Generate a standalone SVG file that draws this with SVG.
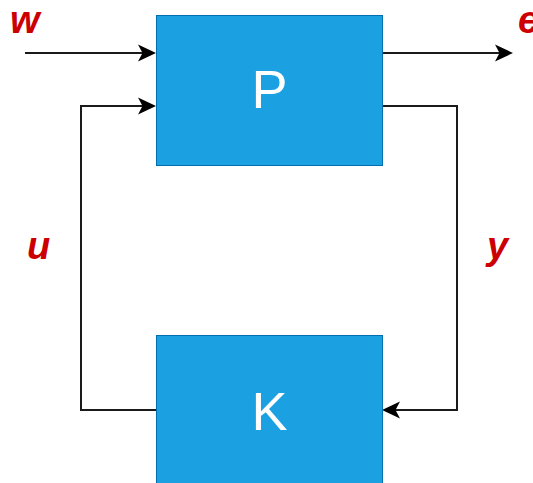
<svg xmlns="http://www.w3.org/2000/svg" width="533" height="483" viewBox="0 0 533 483">
  <style>
    .box { fill: #1BA1E2; stroke: #006EAF; stroke-width: 1; }
    .boxlabel { font-family: "Liberation Sans", Arial, sans-serif; font-size: 54px; fill: #ffffff; text-anchor: middle; }
    .sig { font-family: "Liberation Sans", Arial, sans-serif; font-size: 38px; font-weight: bold; font-style: italic; fill: #CC0000; }
    .wire { fill: none; stroke: #1a1a1a; stroke-width: 2; }
  </style>
  <defs>
    <marker id="arrow" viewBox="0 0 18 18" refX="14" refY="9" markerWidth="18" markerHeight="18" markerUnits="userSpaceOnUse" orient="auto">
      <path d="M0,0.5 L18,9 L0,17.5 L4.5,9 Z" fill="#000000"/>
    </marker>
  </defs>
  <rect width="533" height="483" fill="#ffffff"/>
  <g id="connectors">
    <path class="wire" d="M25,53 H152" marker-end="url(#arrow)"/>
    <path class="wire" d="M382,53 H509" marker-end="url(#arrow)"/>
    <path class="wire" d="M156,410 H81 V106 H152" marker-end="url(#arrow)"/>
    <path class="wire" d="M382,106 H457 V410 H386" marker-end="url(#arrow)"/>
  </g>
  <g id="node-P">
    <rect class="box" x="156.5" y="15.5" width="226" height="150"/>
    <text class="boxlabel" x="269.5" y="108">P</text>
  </g>
  <g id="node-K">
    <rect class="box" x="156.5" y="335.5" width="226" height="150"/>
    <text class="boxlabel" x="269.5" y="430">K</text>
  </g>
  <g id="labels">
    <text class="sig" x="10" y="33">w</text>
    <text class="sig" x="518" y="33">e</text>
    <text class="sig" x="27" y="259">u</text>
    <text class="sig" x="487" y="259">y</text>
  </g>
</svg>
